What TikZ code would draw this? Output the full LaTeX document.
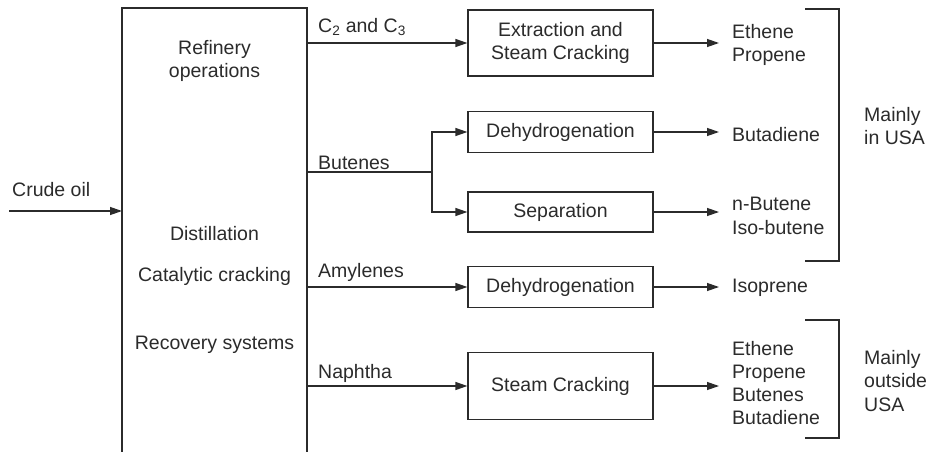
\documentclass[tikz,border=0pt]{standalone}
\usepackage{fontspec}
\setmainfont{Liberation Sans}
\usetikzlibrary{arrows.meta}
\definecolor{ink}{HTML}{2B2B2B}
\begin{document}
\begin{tikzpicture}[x=1pt,y=-1pt,
  every node/.style={text=ink, font=\fontsize{19.5}{23.3}\selectfont, inner sep=0pt},
  line/.style={draw=ink, line width=1.25pt},
  flow/.style={line, -{Triangle[length=12pt,width=8pt]}},
  outflow/.style={flow, shorten >=13pt},
  procbox/.style={draw=ink, line width=1.25pt, minimum width=185pt, align=center},
  txt/.style={align=center},
  prod/.style={align=left, anchor=west},
  stream/.style={anchor=west}]
\useasboundingbox (0,0) rectangle (931,452);
\fill[white] (0,0) rectangle (931,452);

% refinery block, open at the bottom
\coordinate (rbl) at (122,452);
\coordinate (rtl) at (122,8);
\coordinate (rtr) at (307,8);
\coordinate (rbr) at (307,452);
\draw[line] (rbl) -- (rtl) -- (rtr) -- (rbr);
\node[txt] (refops) at (214.5,61) {Refinery\\operations};
\node[txt] (dist) at (214.5,234) {Distillation};
\node[txt] (catcr) at (214.5,276) {Catalytic cracking};
\node[txt] (recov) at (214.5,345) {Recovery systems};

% feed
\coordinate (crude) at (9,211);
\coordinate (rin) at (122,211);
\node[stream] (crudelbl) at (12,190) {Crude oil};
\draw[flow] (crude) -- (rin);

% refinery outlets
\coordinate (o1) at (307,43);
\coordinate (o2) at (307,172);
\coordinate (o3) at (307,287);
\coordinate (o4) at (307,386);
\coordinate (split) at (432,172);

% process units
\node[procbox, minimum height=66pt] (ext) at (560.5,43) {Extraction and\\Steam Cracking};
\node[procbox, minimum height=41pt] (dh1) at (560.5,132) {Dehydrogenation};
\node[procbox, minimum height=40pt] (sep) at (560.5,212) {Separation};
\node[procbox, minimum height=41pt] (dh2) at (560.5,287) {Dehydrogenation};
\node[procbox, minimum height=67pt] (stc) at (560.5,386) {Steam Cracking};

% stream labels
\node[stream] (lc23) at (318,27) {C\textsubscript{2} and C\textsubscript{3}};
\node[stream] (lbut) at (318,163) {Butenes};
\node[stream] (lamy) at (318,272) {Amylenes};
\node[stream] (lnap) at (318,373) {Naphtha};

\draw[flow] (o1) -- (o1 -| ext.west);
\draw[line] (o2) -- (split);
\draw[flow] (split) |- (dh1.west);
\draw[flow] (split) |- (sep.west);
\draw[flow] (o3) -- (o3 -| dh2.west);
\draw[flow] (o4) -- (o4 -| stc.west);

% products
\node[prod] (p1) at (732,45) {Ethene\\Propene};
\node[prod] (p2) at (732,135) {Butadiene};
\node[prod] (p3) at (732,216) {n-Butene\\Iso-butene};
\node[prod] (p4) at (732,288) {Isoprene};
\node[prod] (p5) at (732,383) {Ethene\\Propene\\Butenes\\Butadiene};

\draw[outflow] (ext.east) -- (ext.east -| p1.west);
\draw[outflow] (dh1.east) -- (dh1.east -| p2.west);
\draw[outflow] (sep.east) -- (sep.east -| p3.west);
\draw[outflow] (dh2.east) -- (dh2.east -| p4.west);
\draw[outflow] (stc.east) -- (stc.east -| p5.west);

% regional brackets
\coordinate (b1a) at (805,9);
\coordinate (b1b) at (839,9);
\coordinate (b1c) at (839,261);
\coordinate (b1d) at (805,261);
\draw[line] (b1a) -- (b1b) -- (b1c) -- (b1d);
\coordinate (b2a) at (805,320);
\coordinate (b2b) at (839,320);
\coordinate (b2c) at (839,438);
\coordinate (b2d) at (805,438);
\draw[line] (b2a) -- (b2b) -- (b2c) -- (b2d);
\node[prod] (usa) at (864,126) {Mainly\\in USA};
\node[prod] (nonusa) at (864,381) {Mainly\\outside\\USA};
\end{tikzpicture}
\end{document}
